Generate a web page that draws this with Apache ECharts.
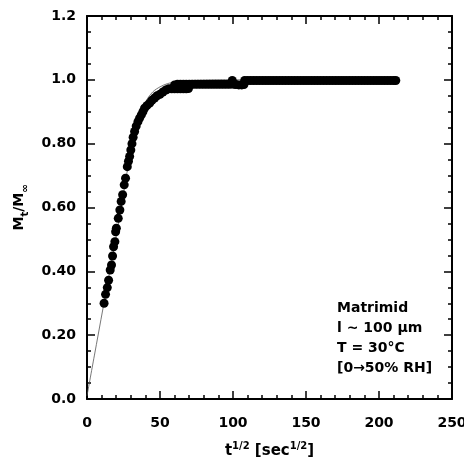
<!DOCTYPE html>
<html>
<head>
<meta charset="utf-8">
<script src="https://cdn.jsdelivr.net/npm/echarts@6/dist/echarts.min.js"></script>
<style>html,body{margin:0;padding:0;background:#fff}#c{width:464px;height:462px}</style>
</head>
<body>
<div id="c"></div>
<script>
// measured sorption kinetics: t^(1/2) [sec^(1/2)] and Mt/Minf
var tRoot = [11.7, 12.7, 13.9, 14.8, 15.9, 16.8, 17.5, 18.2, 19.1, 19.6, 20.1, 21.4, 22.5, 23.4, 24.4, 25.5, 26.4, 27.6,
  28.4, 29.2, 30.0, 30.8, 31.6, 32.6, 33.7, 34.9, 36.0, 37.2, 38.3, 39.4, 41.0, 42.9, 44.5, 46.3, 48.0, 50.0, 52.0,
  54.0, 56.0, 58.0, 60.0, 62.0, 64.0, 66.0, 68.0, 69.5,
  60.0, 62.0, 64.0, 66.0, 68.0, 70.0, 72.0, 74.0, 76.0, 78.0, 80.0, 82.0, 84.0, 86.0, 88.0, 90.0, 92.0, 94.0, 96.0, 98.0,
  99.5, 100.5, 102.0, 104.0, 106.0, 107.5,
  108, 110, 112, 114, 116, 118, 120, 122, 124, 126, 128, 130, 132, 134, 136, 138, 140, 142, 144, 146, 148, 150,
  152, 154, 156, 158, 160, 162, 164, 166, 168, 170, 172, 174, 176, 178, 180, 182, 184, 186, 188, 190, 192, 194,
  196, 198, 200, 202, 204, 206, 208, 210, 211.5];
var uptake = [0.300, 0.328, 0.349, 0.372, 0.404, 0.420, 0.448, 0.477, 0.493, 0.524, 0.535, 0.566, 0.592, 0.619, 0.640, 0.671, 0.692, 0.728,
  0.745, 0.760, 0.780, 0.800, 0.820, 0.838, 0.855, 0.869, 0.880, 0.890, 0.900, 0.911, 0.919, 0.927, 0.936, 0.943, 0.950, 0.955, 0.962,
  0.968, 0.972, 0.972, 0.972, 0.972, 0.972, 0.972, 0.972, 0.973,
  0.984, 0.986, 0.986, 0.986, 0.986, 0.986, 0.986, 0.986, 0.986, 0.986, 0.986, 0.986, 0.986, 0.986, 0.986, 0.986, 0.986, 0.986, 0.986, 0.986,
  0.998, 0.986, 0.985, 0.984, 0.984, 0.985,
  0.998, 0.998, 0.998, 0.998, 0.998, 0.998, 0.998, 0.998, 0.998, 0.998, 0.998, 0.998, 0.998, 0.998, 0.998, 0.998, 0.998, 0.998, 0.998, 0.998, 0.998, 0.998,
  0.998, 0.998, 0.998, 0.998, 0.998, 0.998, 0.998, 0.998, 0.998, 0.998, 0.998, 0.998, 0.998, 0.998, 0.998, 0.998, 0.998, 0.998, 0.998, 0.998, 0.998, 0.998,
  0.998, 0.998, 0.998, 0.998, 0.998, 0.998, 0.998, 0.998, 0.998];
// fitted curve (thin line)
var fitT = [0, 5, 11, 15, 20, 25, 30, 35, 40, 45, 50, 55, 60, 65, 70, 80, 90, 120, 160, 212];
var fitM = [0.01, 0.135, 0.285, 0.385, 0.51, 0.645, 0.775, 0.87, 0.93, 0.962, 0.978, 0.988, 0.993, 0.996, 0.998, 0.999, 1.0, 1.0, 1.0, 1.0];
var yTickLabels = {'0': '0.0', '0.2': '0.20', '0.4': '0.40', '0.6': '0.60', '0.8': '0.80', '1': '1.0', '1.2': '1.2'};
var annotationLines = ['Matrimid', 'l ~ 100 \u03bcm', 'T = 30\u00b0C', '[0\u219250% RH]'];

var FONT = 'DejaVu Sans';
var points = tRoot.map(function (t, i) { return [t, uptake[i]]; });
var fitLine = fitT.map(function (t, i) { return [t, fitM[i]]; });

function axisCommon(extra) {
  var base = {
    type: 'value',
    axisLine: { show: true, onZero: false, lineStyle: { color: '#000', width: 2 } },
    axisTick: { show: true, inside: true, length: 8, lineStyle: { color: '#000', width: 1.5 } },
    minorTick: { show: true, length: 4, lineStyle: { color: '#000', width: 1.5 } },
    splitLine: { show: false },
    minorSplitLine: { show: false }
  };
  for (var k in extra) base[k] = extra[k];
  return base;
}

var chart = echarts.init(document.getElementById('c'), null, { renderer: 'canvas' });
chart.setOption({
  animation: false,
  backgroundColor: '#fff',
  grid: { left: 87, right: 12, top: 16, bottom: 63, containLabel: false, outerBoundsMode: 'none' },
  xAxis: [
    axisCommon({
      position: 'bottom', min: 0, max: 250, interval: 50,
      minorTick: { show: true, splitNumber: 5, length: 4, lineStyle: { color: '#000', width: 1.5 } },
      axisLabel: { margin: 17, fontFamily: FONT, fontWeight: 'bold', fontSize: 14, color: '#000' },
      name: 't{sup|1/2} [sec{sup|1/2}]',
      nameLocation: 'middle', nameGap: 52,
      nameTextStyle: {
        fontFamily: FONT, fontWeight: 'bold', fontSize: 15, color: '#000', lineHeight: 20, verticalAlign: 'middle',
        rich: { sup: { fontFamily: FONT, fontWeight: 'bold', fontSize: 10, color: '#000', lineHeight: 11, verticalAlign: 'top' } }
      }
    }),
    axisCommon({
      position: 'top', min: 0, max: 250, interval: 50,
      minorTick: { show: true, splitNumber: 5, length: 4, lineStyle: { color: '#000', width: 1.5 } },
      axisLabel: { show: false }
    })
  ],
  yAxis: [
    axisCommon({
      position: 'left', min: 0, max: 1.2, interval: 0.2,
      minorTick: { show: true, splitNumber: 4, length: 4, lineStyle: { color: '#000', width: 1.5 } },
      axisLabel: {
        margin: 11, fontFamily: FONT, fontWeight: 'bold', fontSize: 14, color: '#000',
        formatter: function (v) { var key = String(Math.round(v * 10) / 10); return yTickLabels[key] || ''; }
      },
      name: 'M{sub|t}/M{sub|\u221e}',
      nameLocation: 'middle', nameGap: 57, nameRotate: 90,
      nameTextStyle: {
        fontFamily: FONT, fontWeight: 'bold', fontSize: 14, color: '#000', lineHeight: 16, verticalAlign: 'top',
        rich: { sub: { fontFamily: FONT, fontWeight: 'bold', fontSize: 10, color: '#000', lineHeight: 22, verticalAlign: 'bottom' } }
      }
    }),
    axisCommon({
      position: 'right', min: 0, max: 1.2, interval: 0.2,
      minorTick: { show: true, splitNumber: 4, length: 4, lineStyle: { color: '#000', width: 1.5 } },
      axisLabel: { show: false }
    })
  ],
  series: [
    {
      type: 'line', data: fitLine, xAxisIndex: 0, yAxisIndex: 0, smooth: 0.3, showSymbol: false, z: 1,
      lineStyle: { color: '#555', width: 0.8 }
    },
    {
      type: 'scatter', data: points, xAxisIndex: 0, yAxisIndex: 0, symbol: 'circle', symbolSize: 9, z: 2,
      itemStyle: { color: '#000', opacity: 1 }
    }
  ],
  graphic: [
    {
      type: 'text', left: 337, top: 298, z: 10,
      style: {
        text: annotationLines.join('\n'),
        fontFamily: FONT, fontWeight: 'bold', fontSize: 14, lineHeight: 20, fill: '#000'
      }
    }
  ]
});
</script>
</body>
</html>
